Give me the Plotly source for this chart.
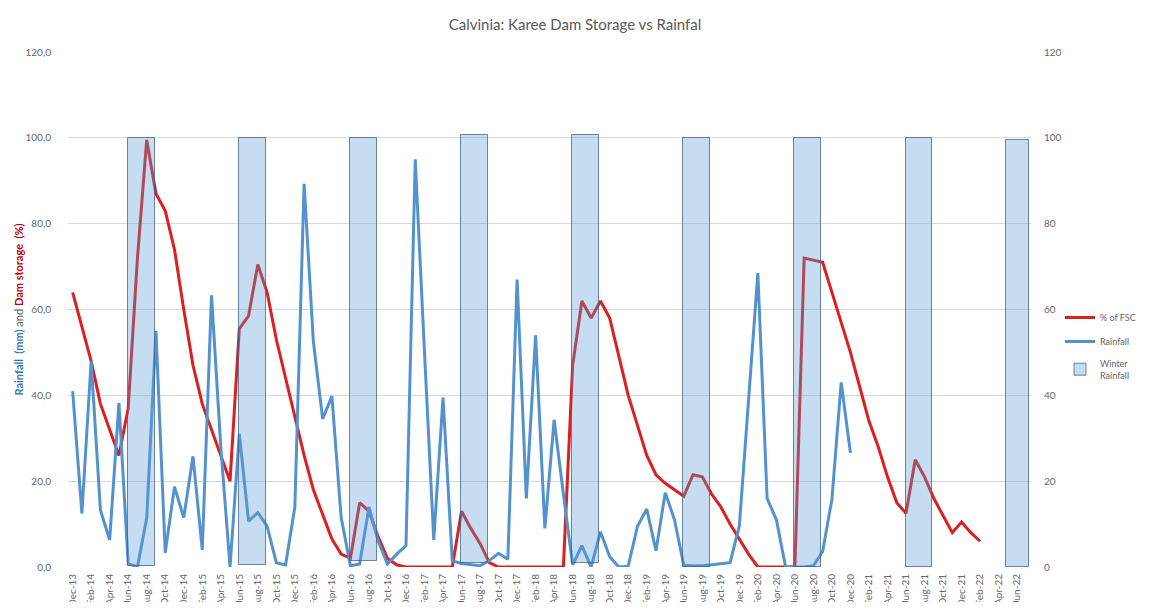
import pandas as pd
import plotly.graph_objects as go

# Month categories Dec-13 .. Jul-22
months = [d.strftime("%b-%y") for d in pd.date_range("2013-12-01", "2022-07-01", freq="MS")]
tick_labels = months[:103:2]

# % of Full Supply Capacity (Dec-13 .. Feb-22)
fsc = [64, 56, 48, 38, 32, 26, 37, 72, 99.5, 87, 83, 74,
       60, 47, 38, 32, 26, 20, 55.5, 58.5, 70.5, 64, 53, 44,
       35, 26, 18, 12, 6.5, 3, 2, 15, 13, 7, 2, 0.5,
       0, 0, 0, 0, 0, 0, 13, 9, 5.5, 1, 0, 0,
       0, 0, 0, 0, 0, 0, 47, 62, 58, 62, 58, 49,
       40, 33, 26, 21.5, 19.5, 18, 16.5, 21.5, 21, 17, 14, 10,
       6.5, 3, 0, 0, 0, 0, 0, 72, 71.5, 71, 64, 57,
       50, 42, 34, 28, 21, 15, 12.5, 25, 21, 16, 12, 8,
       10.5, 8, 6]

# Monthly rainfall in mm (Dec-13 .. Dec-20)
rain = [41, 12.5, 48, 13.3, 6.3, 38.2, 0.8, 0, 11.4, 55, 3.3, 18.7,
        11.5, 25.8, 4, 63.3, 28, 0, 31, 10.7, 12.7, 9.5, 1, 0.5,
        14, 89.3, 52.5, 34.5, 39.8, 11.5, 0.3, 0.7, 14, 6, 0.7, 3,
        5, 95, 50, 6.3, 39.5, 1.5, 0.8, 0.5, 0.3, 1.5, 3.2, 1.8,
        67, 16, 54, 9, 34.3, 17, 0.5, 5, 0, 8.2, 2.4, 0,
        0.2, 9.5, 13.5, 3.8, 17.3, 11, 0.4, 0.3, 0.3, 0.5, 0.7, 1,
        9.5, 38, 68.5, 16, 11, 0, 0, 0, 0.3, 3.6, 15.8, 43,
        26.6]

# Winter rainfall bands
winter_x = ["Jul-14", "Jul-15", "Jul-16", "Jul-17", "Jul-18", "Jul-19", "Jul-20", "Jul-21", "Jun-22"]
winter_top = [100, 100, 100, 100.7, 100.7, 100, 100, 100, 99.5]
winter_base = [0.2, 0.5, 1.5, 0.9, 0.9, 0, 0, 0, 0]

FONT = "Lato, 'Open Sans', sans-serif"
GREY = "#666666"

# figure sits inside the page's default 8px body margin
W, H = 1134, 594
ML, MR, MT, MB = 60, 111, 44, 35
PW = W - ML - MR
PH = H - MT - MB

fig = go.Figure()

fig.add_trace(go.Scatter(
    x=months[:len(fsc)], y=fsc, name="% of FSC", mode="lines",
    line=dict(color="#dc1f1f", width=3), yaxis="y", legendrank=1, legendgroup="a"))

fig.add_trace(go.Scatter(
    x=months[:len(rain)], y=rain, name="Rainfall", mode="lines",
    line=dict(color="#5492cf", width=3), yaxis="y", legendrank=2, legendgroup="b"))

fig.add_trace(go.Bar(
    x=winter_x, y=[t - b for t, b in zip(winter_top, winter_base)], base=winter_base,
    name="Winter<br>Rainfall", yaxis="y2", legendrank=3, legendgroup="c",
    width=[2.9] * 8 + [2.45], offset=[-1.05] * 8 + [-1.15],
    marker=dict(color="rgba(91,155,213,0.35)",
                line=dict(color="rgba(60,95,135,0.75)", width=1))))

fig.update_layout(
    width=W, height=H,
    margin=dict(l=ML, r=MR, t=MT, b=MB, autoexpand=False),
    paper_bgcolor="white", plot_bgcolor="white",
    separators=",.",
    font=dict(family=FONT, color=GREY, size=10),
    title=dict(text="Calvinia: Karee Dam Storage vs Rainfal", x=0.5, xanchor="center",
               y=1 - 17 / H, yanchor="middle", yref="container",
               font=dict(size=15, color="#595959", family=FONT)),
    xaxis=dict(type="category", categoryorder="array", categoryarray=months,
               range=[-0.5, len(months) - 0.5],
               tickmode="array", tickvals=tick_labels, ticktext=tick_labels,
               tickangle=-90, tickfont=dict(size=10, color=GREY),
               showgrid=False, showline=False, zeroline=False, automargin=False,
               ticks="", ticklabelstandoff=4),
    yaxis=dict(range=[0, 120], tickvals=[0, 20, 40, 60, 80, 100, 120], tickformat=".1f",
               showgrid=True, gridcolor="#d9d9d9", gridwidth=1, zeroline=False,
               showline=False, tickfont=dict(size=10, color=GREY),
               ticklabelstandoff=16, automargin=False),
    yaxis2=dict(range=[0, 120], tickvals=[0, 20, 40, 60, 80, 100, 120], tickformat="d",
                overlaying="y", side="right", showgrid=False, zeroline=False,
                showline=False, tickfont=dict(size=10, color=GREY),
                ticklabelstandoff=12, automargin=False),
    bargap=0,
    legend=dict(x=(1052 - ML) / PW, xanchor="left", y=(H - MB - 295) / PH, yanchor="top",
                font=dict(size=9, color=GREY), bgcolor="rgba(0,0,0,0)",
                tracegroupgap=5, itemwidth=30),
    showlegend=True,
)

fig.add_annotation(
    xref="paper", yref="paper", x=-50 / PW, y=0.5, xanchor="center", yanchor="middle",
    textangle=-90, showarrow=False,
    text=("<b><span style='color:#2e75b6'>Rainfall  (mm)</span></b>"
          "<span style='color:#595959'> and </span>"
          "<b><span style='color:#c00000'>Dam storage  (%)</span></b>"),
    font=dict(size=11, family=FONT))

fig.write_html("out.html")
